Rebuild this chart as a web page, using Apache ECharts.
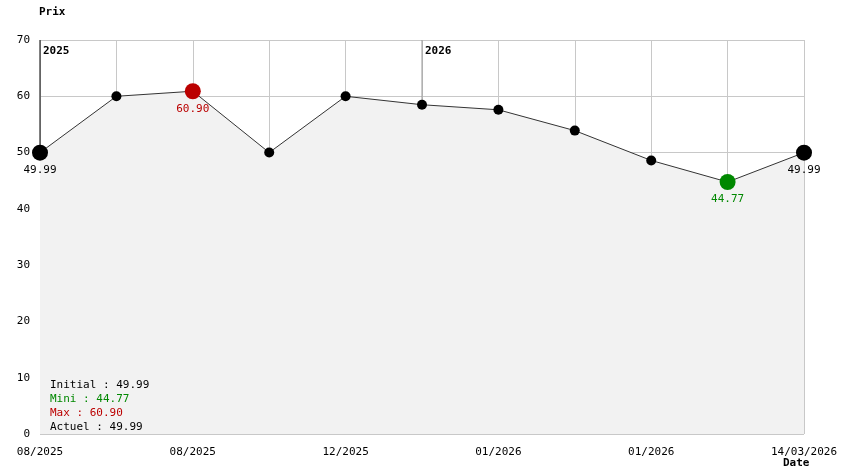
<!DOCTYPE html>
<html><head><meta charset="utf-8">
<script src="https://cdn.jsdelivr.net/npm/echarts@6/dist/echarts.min.js"></script>
<style>html,body{margin:0;padding:0;background:#fff}#c{width:844px;height:474px}</style>
</head><body><div id="c"></div>
<script>
var categories = ['08/2025','08/2025','08/2025','10/2025','12/2025','12/2025','01/2026','01/2026','01/2026','02/2026','14/03/2026'];
var prices = [49.99, 60.00, 60.90, 50.00, 60.00, 58.50, 57.60, 53.90, 48.60, 44.77, 49.99];
var yTicks = [0, 10, 20, 30, 40, 50, 60, 70];
var yearNames = ['2025', '2026'];
var yearIndex = [0, 5];
var yearColors = ['#000', '#999'];
var statNames = ['Initial', 'Mini', 'Max', 'Actuel'];
var statValues = [49.99, 44.77, 60.90, 49.99];
var statColors = ['#000', '#008800', '#bb0000', '#000'];

var FONT = 'DejaVu Sans Mono';
var yMax = yTicks[yTicks.length - 1];
var minV = Math.min.apply(null, prices), maxV = Math.max.apply(null, prices);
var lastI = prices.length - 1;
var data = prices.map(function (v, i) {
  var d = {value: v};
  if (i === 0 || i === lastI) {
    d.symbolSize = 16; d.itemStyle = {color: '#000'};
    d.label = {show: true, color: '#000'};
  } else if (v === maxV) {
    d.symbolSize = 16; d.itemStyle = {color: '#bb0000'};
    d.label = {show: true, color: '#bb0000'};
  } else if (v === minV) {
    d.symbolSize = 16; d.itemStyle = {color: '#008800'};
    d.label = {show: true, color: '#008800'};
  }
  return d;
});

var yearSeries = yearIndex.map(function (idx, k) {
  return {
    type: 'line', z: 1, silent: true, symbol: 'none',
    data: [[idx, yMax], [idx, prices[idx]]],
    lineStyle: {color: yearColors[k], width: 1},
    markPoint: {
      silent: true, symbol: 'rect', symbolSize: 0,
      label: {show: true, position: [3, 6], align: 'left', verticalAlign: 'top',
        fontFamily: FONT, fontSize: 11, fontWeight: 'bold', color: '#000', formatter: yearNames[k]},
      data: [{coord: [idx, yMax]}]
    }
  };
});

var chart = echarts.init(document.getElementById('c'));
chart.setOption({
  animation: false,
  grid: {left: 40, right: 40, top: 40, bottom: 40, containLabel: false, outerBoundsMode: 'none'},
  xAxis: {
    type: 'category', data: categories, boundaryGap: false,
    axisLine: {show: false}, axisTick: {show: false},
    axisLabel: {interval: 1, fontFamily: FONT, fontSize: 11, color: '#000', margin: 13},
    splitLine: {show: true, interval: 0, lineStyle: {color: '#c8c8c8', width: 1}}
  },
  yAxis: {
    type: 'value', min: 0, max: yMax, interval: 10,
    axisLine: {show: false}, axisTick: {show: false},
    axisLabel: {fontFamily: FONT, fontSize: 11, color: '#000', margin: 10, padding: [3, 0, 0, 0],
      formatter: function (v) { return yTicks.indexOf(v) >= 0 ? String(v) : ''; }},
    splitLine: {show: true, lineStyle: {color: '#c8c8c8', width: 1}}
  },
  graphic: [
    {type: 'text', left: 39, top: 7, style: {text: 'Prix', fill: '#000', font: 'bold 11px "' + FONT + '"'}},
    {type: 'text', left: 783, top: 458, style: {text: 'Date', fill: '#000', font: 'bold 11px "' + FONT + '"'}}
  ].concat(statNames.map(function (n, i) {
    return {type: 'text', left: 50, top: 380 + i * 14, z: 100,
      style: {text: n + ' : ' + statValues[i].toFixed(2), fill: statColors[i], font: '11px "' + FONT + '"'}};
  })),
  series: yearSeries.concat([{
    type: 'line', z: 3, data: data, symbol: 'circle', symbolSize: 10,
    itemStyle: {color: '#000'},
    lineStyle: {color: '#333', width: 1},
    areaStyle: {color: '#f2f2f2', opacity: 1},
    label: {show: false, position: 'bottom', distance: 4, fontFamily: FONT, fontSize: 11,
      formatter: function (p) { return p.value.toFixed(2); }}
  }])
});
</script></body></html>
